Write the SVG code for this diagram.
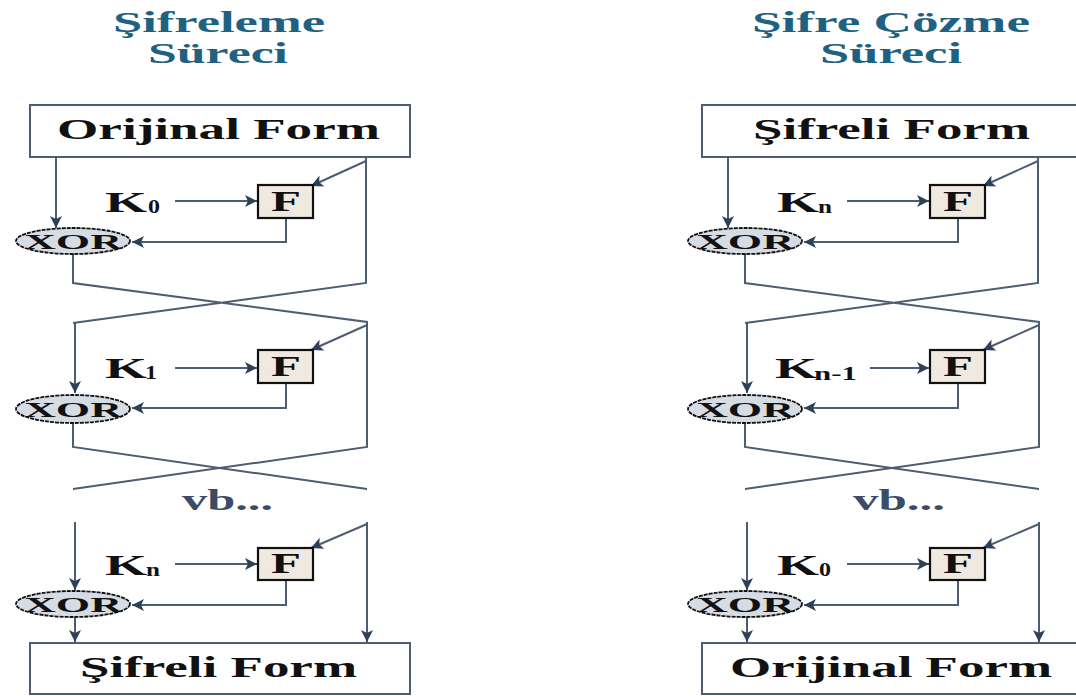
<svg xmlns="http://www.w3.org/2000/svg" width="1076" height="696" viewBox="0 0 1076 696">
<style>
.ln{fill:none;stroke:#4e5d72;stroke-width:2}
.box{fill:#fff;stroke:#4e5d72;stroke-width:2}
.fbox{fill:#efe9e0;stroke:#111;stroke-width:2.2}
.xor{fill:#d6dce4;stroke:#111;stroke-width:1.8;stroke-dasharray:4 1}
.title{font-family:"Liberation Serif",serif;font-weight:bold;font-size:29px;fill:#1f6181}
.big{font-family:"Liberation Serif",serif;font-weight:bold;font-size:29px;fill:#111}
.k{font-family:"Liberation Serif",serif;font-weight:bold;font-size:29px;fill:#111}
.sub{font-family:"Liberation Serif",serif;font-weight:bold;font-size:19px;fill:#111}
.f{font-family:"Liberation Serif",serif;font-weight:bold;font-size:29px;fill:#111;text-anchor:middle}
.x{font-family:"Liberation Serif",serif;font-weight:bold;font-size:22px;fill:#111;text-anchor:middle}
.vb{font-family:"Liberation Serif",serif;font-weight:bold;font-size:29px;fill:#3b4c66}
</style>
<defs>
<marker id="ah" markerUnits="userSpaceOnUse" markerWidth="14" markerHeight="12" refX="12" refY="6" orient="auto">
<path d="M0,0 L12,6 L0,12 L3,6 Z" fill="#2c4058"/>
</marker>
<g id="col">
<rect class="box" x="30" y="105" width="380" height="52"/>
<rect class="box" x="30" y="643" width="380" height="51"/>
<g class="conn">
<path class="ln" d="M56,157 V228" marker-end="url(#ah)"/>
<path class="ln" d="M366,157 V283 L73,323 M73,254 V283 L367,322 V447 L73,489" />
<path class="ln" d="M75,322 V393" marker-end="url(#ah)"/>
<path class="ln" d="M366,161 L311,186" marker-end="url(#ah)"/>
<path class="ln" d="M175,201 H257" marker-end="url(#ah)"/>
<path class="ln" d="M286,218 V242 H132" marker-end="url(#ah)"/>
<path class="ln" d="M367,325 L311,350" marker-end="url(#ah)"/>
<path class="ln" d="M286,383 V408 H132" marker-end="url(#ah)"/>
<path class="ln" d="M73,423 V447 L367,489"/>
<path class="ln" d="M75,522 V590" marker-end="url(#ah)"/>
<path class="ln" d="M367,522 V642" marker-end="url(#ah)"/>
<path class="ln" d="M367,524 L311,548" marker-end="url(#ah)"/>
<path class="ln" d="M175,564 H257" marker-end="url(#ah)"/>
<path class="ln" d="M286,580 V605 H132" marker-end="url(#ah)"/>
<path class="ln" d="M75,617 V642" marker-end="url(#ah)"/>
</g>
<rect class="fbox" x="258" y="185" width="55" height="33"/>
<rect class="fbox" x="258" y="350" width="55" height="33"/>
<rect class="fbox" x="258" y="548" width="55" height="32"/>
<text class="f" x="286" y="211" textLength="30" lengthAdjust="spacingAndGlyphs">F</text>
<text class="f" x="286" y="376" textLength="30" lengthAdjust="spacingAndGlyphs">F</text>
<text class="f" x="286" y="573" textLength="30" lengthAdjust="spacingAndGlyphs">F</text>
<ellipse class="xor" cx="73" cy="241" rx="57" ry="13"/>
<ellipse class="xor" cx="73" cy="409" rx="57" ry="14"/>
<ellipse class="xor" cx="73" cy="604" rx="57" ry="13"/>
<text class="x" x="73" y="249" textLength="98" lengthAdjust="spacingAndGlyphs">XOR</text>
<text class="x" x="73" y="417" textLength="98" lengthAdjust="spacingAndGlyphs">XOR</text>
<text class="x" x="73" y="612" textLength="98" lengthAdjust="spacingAndGlyphs">XOR</text>
</g>
</defs>
<g id="title-left"><text class="title" x="113" y="32" textLength="212" lengthAdjust="spacingAndGlyphs">Şifreleme</text><text class="title" x="148" y="63" textLength="140" lengthAdjust="spacingAndGlyphs">Süreci</text></g>
<g id="title-right"><text class="title" x="752" y="32" textLength="278" lengthAdjust="spacingAndGlyphs">Şifre Çözme</text><text class="title" x="820" y="63" textLength="142" lengthAdjust="spacingAndGlyphs">Süreci</text></g>
<g id="left-column"><use href="#col"/></g>
<g id="right-column"><use href="#col" transform="translate(672,0)"/></g>
<g id="key-arrows">
<path class="ln" d="M175,368 H257" marker-end="url(#ah)"/>
<path class="ln" d="M870,368 H929" marker-end="url(#ah)"/>
</g>
<g id="left-labels">
<text class="big" x="57" y="139" textLength="323" lengthAdjust="spacingAndGlyphs">Orijinal Form</text>
<text class="big" x="80" y="677" textLength="277" lengthAdjust="spacingAndGlyphs">Şifreli Form</text>
<text class="k" x="105" y="212" textLength="42" lengthAdjust="spacingAndGlyphs">K</text><text class="sub" x="148" y="213" textLength="12" lengthAdjust="spacingAndGlyphs">0</text>
<text class="k" x="105" y="378" textLength="42" lengthAdjust="spacingAndGlyphs">K</text><text class="sub" x="145" y="379" textLength="12" lengthAdjust="spacingAndGlyphs">1</text>
<text class="k" x="105" y="575" textLength="42" lengthAdjust="spacingAndGlyphs">K</text><text class="sub" x="146" y="576" textLength="14" lengthAdjust="spacingAndGlyphs">n</text>
<text class="vb" x="182" y="510" textLength="91" lengthAdjust="spacingAndGlyphs">vb...</text>
</g>
<g id="right-labels">
<text class="big" x="753" y="139" textLength="277" lengthAdjust="spacingAndGlyphs">Şifreli Form</text>
<text class="big" x="730" y="677" textLength="322" lengthAdjust="spacingAndGlyphs">Orijinal Form</text>
<text class="k" x="777" y="212" textLength="42" lengthAdjust="spacingAndGlyphs">K</text><text class="sub" x="818" y="213" textLength="14" lengthAdjust="spacingAndGlyphs">n</text>
<text class="k" x="775" y="378" textLength="42" lengthAdjust="spacingAndGlyphs">K</text><text class="sub" x="814" y="380" textLength="43" lengthAdjust="spacingAndGlyphs">n-1</text>
<text class="k" x="777" y="575" textLength="42" lengthAdjust="spacingAndGlyphs">K</text><text class="sub" x="819" y="576" textLength="12" lengthAdjust="spacingAndGlyphs">0</text>
<text class="vb" x="853" y="510" textLength="92" lengthAdjust="spacingAndGlyphs">vb...</text>
</g>
</svg>
